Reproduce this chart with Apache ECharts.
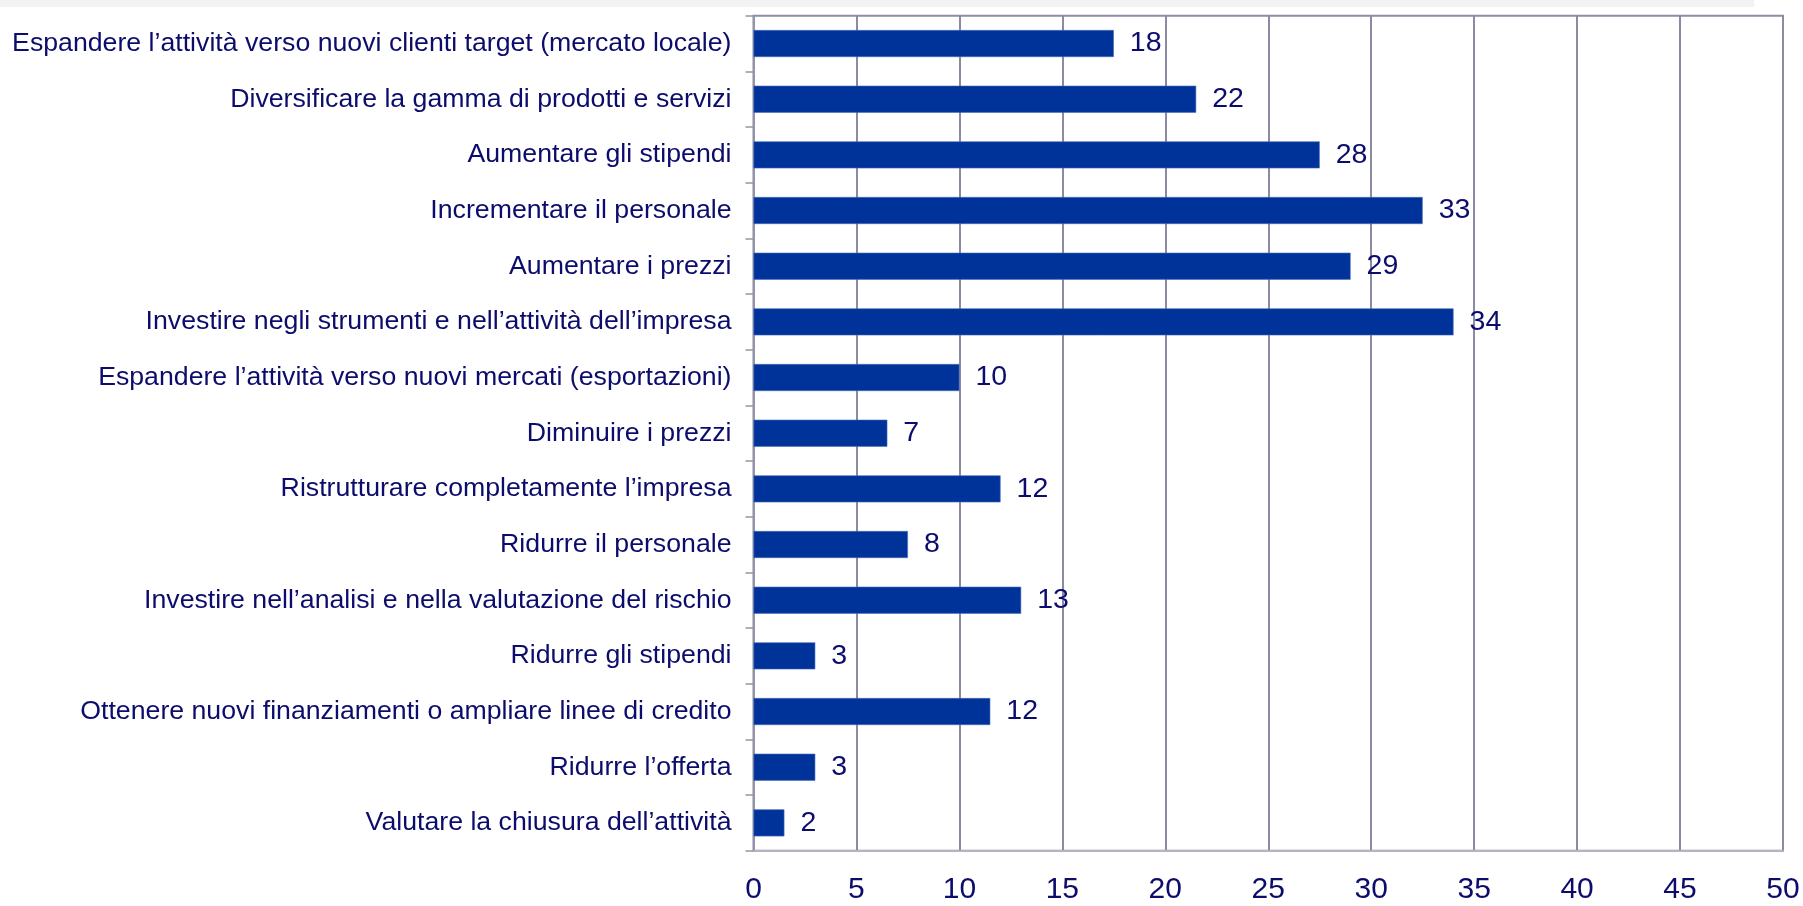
<!DOCTYPE html>
<html>
<head>
<meta charset="utf-8">
<script src="https://cdn.jsdelivr.net/npm/echarts@6/dist/echarts.min.js"></script>
<style>
html,body{margin:0;padding:0;background:#ffffff;}
#chart{width:1803px;height:906px;}
</style>
</head>
<body>
<div id="chart"></div>
<script>
const categories = [
  "Espandere l\u2019attività verso nuovi clienti target (mercato locale)",
  "Diversificare la gamma di prodotti e servizi",
  "Aumentare gli stipendi",
  "Incrementare il personale",
  "Aumentare i prezzi",
  "Investire negli strumenti e nell\u2019attività dell\u2019impresa",
  "Espandere l\u2019attività verso nuovi mercati (esportazioni)",
  "Diminuire i prezzi",
  "Ristrutturare completamente l\u2019impresa",
  "Ridurre il personale",
  "Investire nell\u2019analisi e nella valutazione del rischio",
  "Ridurre gli stipendi",
  "Ottenere nuovi finanziamenti o ampliare linee di credito",
  "Ridurre l\u2019offerta",
  "Valutare la chiusura dell\u2019attività"
];
const values = [17.5, 21.5, 27.5, 32.5, 29, 34, 10, 6.5, 12, 7.5, 13, 3, 11.5, 3, 1.5];
const valueLabels = ["18", "22", "28", "33", "29", "34", "10", "7", "12", "8", "13", "3", "12", "3", "2"];
const xTicks = [0, 5, 10, 15, 20, 25, 30, 35, 40, 45, 50];

const FONT = "'Liberation Sans', Arial, sans-serif";
const chart = echarts.init(document.getElementById('chart'), null, {renderer: 'canvas'});
chart.setOption({
  backgroundColor: '#ffffff',
  animation: false,
  graphic: [{
    type: 'rect', left: 0, top: 0, shape: {x: 0, y: 0, width: 1754, height: 7},
    style: {fill: '#f2f2f2'}, z: -1
  }],
  grid: {
    left: 753.5, right: 20, top: 15.7, bottom: 55.3,
    containLabel: false, outerBoundsMode: 'none',
    show: true, borderColor: '#8c8ca4', borderWidth: 2, backgroundColor: 'transparent'
  },
  xAxis: {
    type: 'value', min: xTicks[0], max: xTicks[xTicks.length - 1], interval: 5,
    axisLine: {show: true, lineStyle: {color: '#b4b4bc', width: 2}},
    axisTick: {show: false},
    splitLine: {show: true, lineStyle: {color: '#8a8aa2', width: 2}},
    axisLabel: {color: '#0c0c6c', fontFamily: FONT, fontSize: 30, margin: 24}
  },
  yAxis: {
    type: 'category', data: categories, inverse: true,
    axisLine: {show: true, lineStyle: {color: '#9494a8', width: 2}},
    axisTick: {show: true, length: 8, lineStyle: {color: '#9494a8', width: 1.5}},
    axisLabel: {color: '#0c0c6c', fontFamily: FONT, fontSize: 26.7, margin: 22}
  },
  series: [{
    type: 'bar', data: values, barWidth: 27,
    itemStyle: {color: '#003399', borderColor: '#4a6cb8', borderWidth: 0.6},
    label: {
      show: true, position: 'right', distance: 16,
      color: '#0c0c6c', fontFamily: FONT, fontSize: 28.5,
      formatter: p => valueLabels[p.dataIndex]
    }
  }]
});
</script>
</body>
</html>
